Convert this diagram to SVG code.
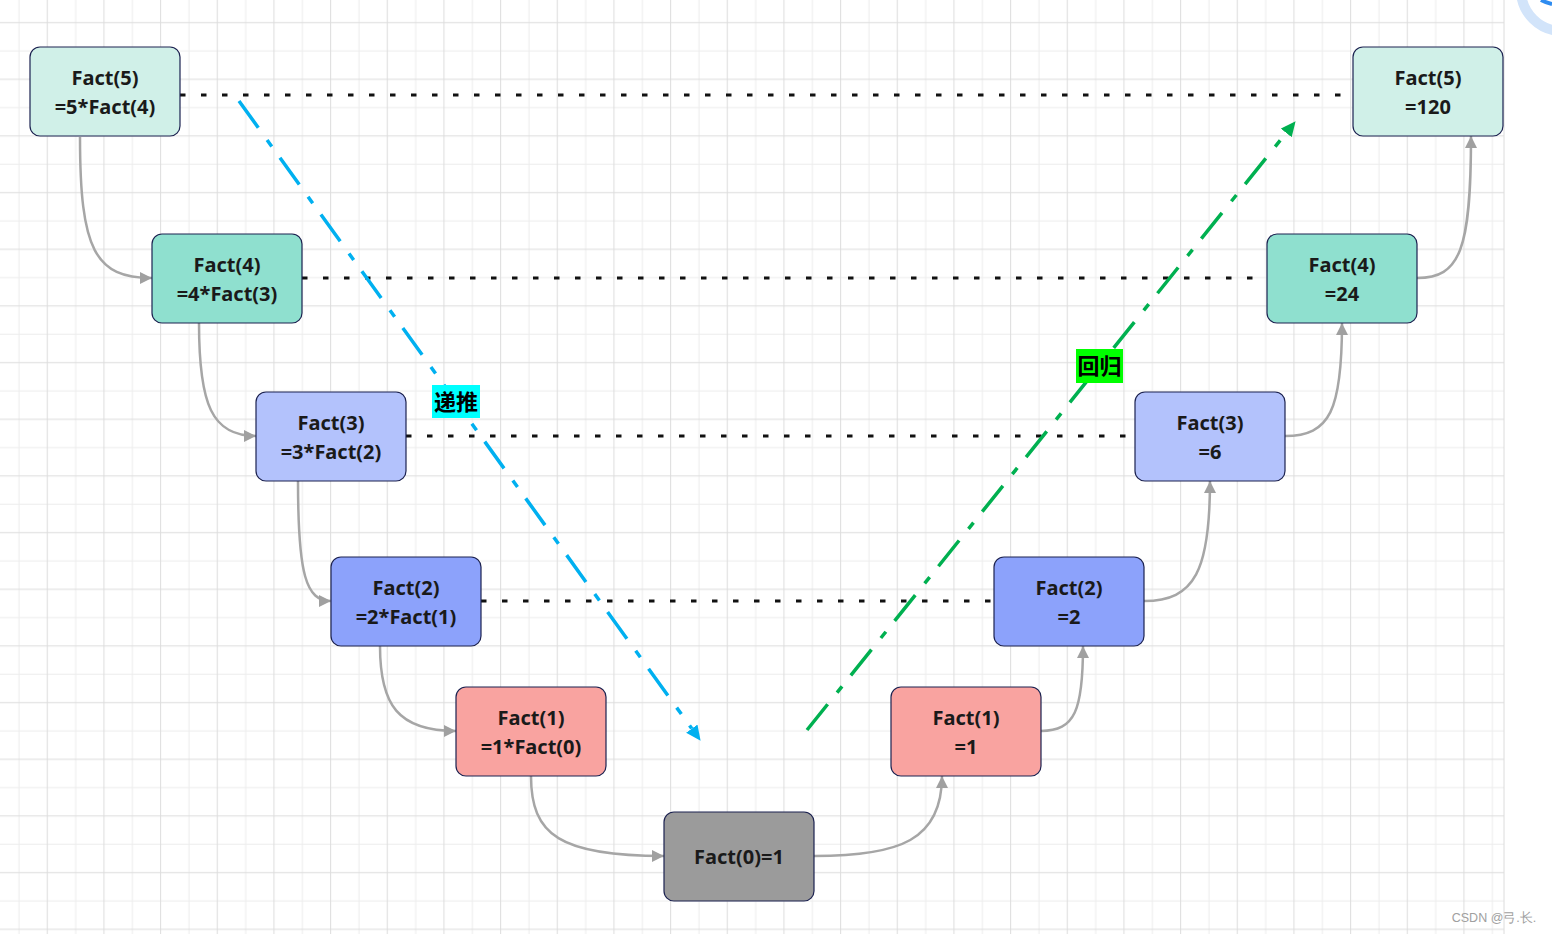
<svg xmlns="http://www.w3.org/2000/svg" width="1552" height="934" viewBox="0 0 1552 934">
<defs>
<pattern id="grid" patternUnits="userSpaceOnUse" x="0" y="0" width="56.667" height="56.667">
<line x1="19" y1="0" x2="19" y2="56.667" stroke="#ececec" stroke-width="1"/>
<line x1="0" y1="51" x2="56.667" y2="51" stroke="#ececec" stroke-width="1"/>
<line x1="47.33" y1="0" x2="47.33" y2="56.667" stroke="#dcdcdc" stroke-width="1"/>
<line x1="0" y1="22.67" x2="56.667" y2="22.67" stroke="#dcdcdc" stroke-width="1"/>
</pattern>
<marker id="ag" markerUnits="userSpaceOnUse" markerWidth="14" markerHeight="14" refX="12" refY="6" orient="auto">
<path d="M0,0 L12,6 L0,12 z" fill="#a0a0a0"/>
</marker>
<marker id="ab" markerUnits="userSpaceOnUse" markerWidth="16" markerHeight="16" refX="0" refY="7" orient="auto">
<path d="M0,0 L15,7 L0,14 z" fill="#00b0f0"/>
</marker>
<marker id="agr" markerUnits="userSpaceOnUse" markerWidth="16" markerHeight="16" refX="0" refY="7" orient="auto">
<path d="M0,0 L15,7 L0,14 z" fill="#00b050"/>
</marker>
</defs>
<style>
.n rect{stroke:#1c2250;stroke-width:1.2}
.n text{font-family:"Noto Sans","Open Sans",sans-serif;font-weight:bold;font-size:20px;fill:#1a1a1a;text-anchor:middle}
.c{fill:none;stroke:#a6a6a6;stroke-width:2.5;marker-end:url(#ag)}
.d{stroke:#111;stroke-width:3;stroke-dasharray:5.5 15.5}
.lb{font-family:"Noto Sans CJK SC",sans-serif;font-weight:bold;font-size:22px;fill:#000;text-anchor:middle}
</style>
<rect width="1552" height="934" fill="#fff"/>
<rect x="0" y="0" width="1504" height="934" fill="url(#grid)"/>
<line x1="1504" y1="0" x2="1504" y2="934" stroke="#dcdcdc" stroke-width="1"/>
<circle cx="1562" cy="-10" r="41" fill="none" stroke="#d2e4fa" stroke-width="10"/>
<path d="M1541,0 A41,41 0 0 0 1552,4" fill="none" stroke="#2e8cf0" stroke-width="4"/>

<g id="dotted">
<line class="d" x1="180" y1="95" x2="1353" y2="95"/>
<line class="d" x1="302" y1="278" x2="1267" y2="278"/>
<line class="d" x1="406" y1="436" x2="1135" y2="436"/>
<line class="d" x1="481" y1="601" x2="994" y2="601"/>
</g>

<g id="connectors">
<path class="c" d="M80 137 C80 250 95 278 152 278"/>
<path class="c" d="M199 323 C199 405 212 436 256 436"/>
<path class="c" d="M298 481 C298 575 306 601 331 601"/>
<path class="c" d="M380 646 C380 705 398 731 456 731"/>
<path class="c" d="M531 776 C531 835 560 856 664 856"/>
<path class="c" d="M814 856 C900 856 942 840 942 776"/>
<path class="c" d="M1041 731 C1075 731 1083 710 1083 646"/>
<path class="c" d="M1144 601 C1195 601 1210 570 1210 481"/>
<path class="c" d="M1285 436 C1330 436 1342 410 1342 323"/>
<path class="c" d="M1417 278 C1460 278 1471 250 1471 136"/>
<line x1="239" y1="101" x2="691.8" y2="728.6" stroke="#00b0f0" stroke-width="3.5" stroke-dasharray="33 15 8 14" marker-end="url(#ab)"/>
<line x1="807" y1="730" x2="1286.2" y2="132.9" stroke="#00b050" stroke-width="3.5" stroke-dasharray="33 15 8 14" marker-end="url(#agr)"/>
</g>

<g id="n5l" class="n"><rect x="30" y="47" width="150" height="89" rx="10" fill="#d0f0e8"/><text x="105" y="85">Fact(5)</text><text x="105" y="114">=5*Fact(4)</text></g>
<g id="n4l" class="n"><rect x="152" y="234" width="150" height="89" rx="10" fill="#8fe0cf"/><text x="227" y="272">Fact(4)</text><text x="227" y="301">=4*Fact(3)</text></g>
<g id="n3l" class="n"><rect x="256" y="392" width="150" height="89" rx="10" fill="#b3c2fc"/><text x="331" y="430">Fact(3)</text><text x="331" y="459">=3*Fact(2)</text></g>
<g id="n2l" class="n"><rect x="331" y="557" width="150" height="89" rx="10" fill="#8ca2fb"/><text x="406" y="595">Fact(2)</text><text x="406" y="624">=2*Fact(1)</text></g>
<g id="n1l" class="n"><rect x="456" y="687" width="150" height="89" rx="10" fill="#f9a3a0"/><text x="531" y="725">Fact(1)</text><text x="531" y="754">=1*Fact(0)</text></g>
<g id="n0" class="n"><rect x="664" y="812" width="150" height="89" rx="10" fill="#9b9b9b"/><text x="739" y="864">Fact(0)=1</text></g>
<g id="n1r" class="n"><rect x="891" y="687" width="150" height="89" rx="10" fill="#f9a3a0"/><text x="966" y="725">Fact(1)</text><text x="966" y="754">=1</text></g>
<g id="n2r" class="n"><rect x="994" y="557" width="150" height="89" rx="10" fill="#8ca2fb"/><text x="1069" y="595">Fact(2)</text><text x="1069" y="624">=2</text></g>
<g id="n3r" class="n"><rect x="1135" y="392" width="150" height="89" rx="10" fill="#b3c2fc"/><text x="1210" y="430">Fact(3)</text><text x="1210" y="459">=6</text></g>
<g id="n4r" class="n"><rect x="1267" y="234" width="150" height="89" rx="10" fill="#8fe0cf"/><text x="1342" y="272">Fact(4)</text><text x="1342" y="301">=24</text></g>
<g id="n5r" class="n"><rect x="1353" y="47" width="150" height="89" rx="10" fill="#d0f0e8"/><text x="1428" y="85">Fact(5)</text><text x="1428" y="114">=120</text></g>

<g id="lbl-push"><rect x="432" y="385" width="48" height="33" fill="#00ffff"/><text class="lb" x="456" y="410">递推</text></g>
<g id="lbl-back"><rect x="1076" y="349" width="47" height="34" fill="#00ff00"/><text class="lb" x="1099.5" y="374">回归</text></g>

<text x="1494" y="922" font-family="Liberation Sans, sans-serif" font-size="12.5" fill="#a0a0a0" text-anchor="middle">CSDN @弓.长.</text>
</svg>
